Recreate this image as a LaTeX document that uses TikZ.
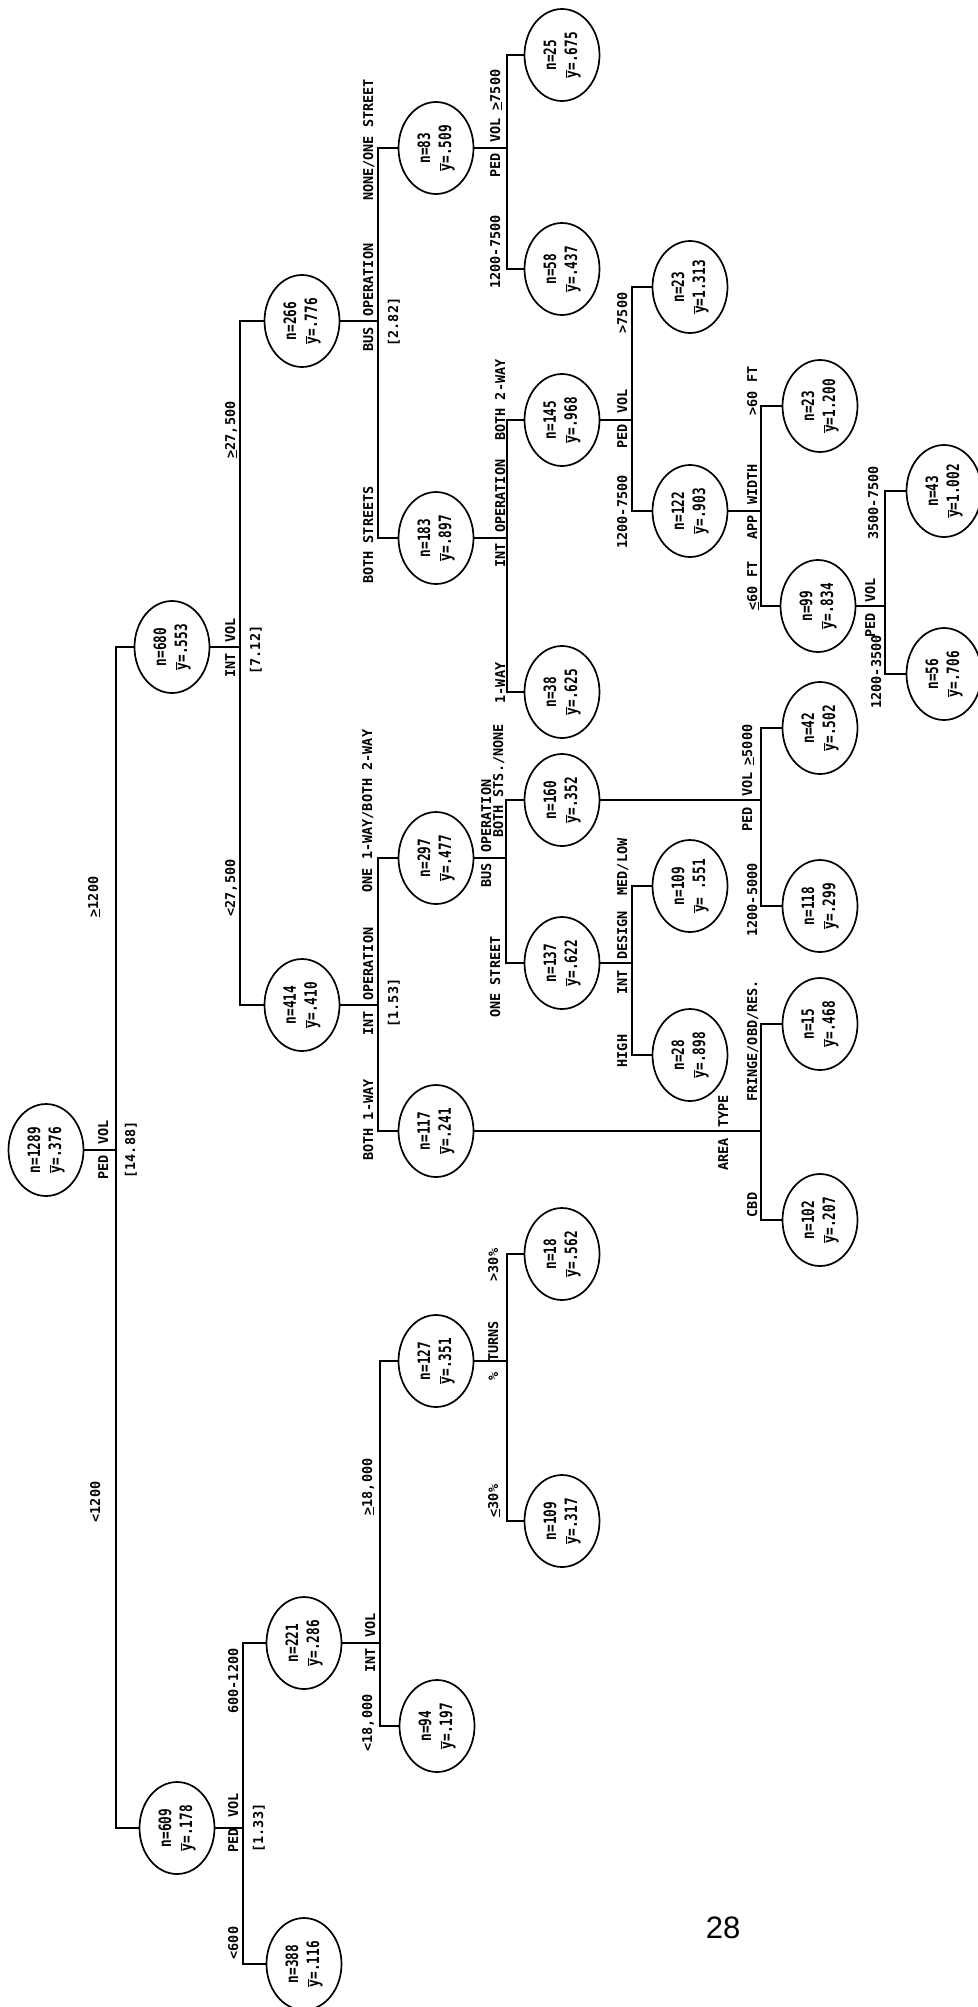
\documentclass[tikz,border=0pt]{standalone}
\usepackage{fontspec}
\setmainfont{Liberation Sans}
\newfontfamily\treefont[FakeStretch=0.75]{DejaVu Sans Mono}
\newfontfamily\labfont{DejaVu Sans Mono}
\usetikzlibrary{shapes.geometric}
\newcommand\ymean{$\overline{\hbox{y}}$}
\newcommand\gtu{\underline{>}}
\newcommand\ltu{\underline{<}}
\tikzset{
  leaf/.style={ellipse, draw, line width=1.7pt, rotate=90, minimum width=92pt, minimum height=75pt,
    inner sep=0pt, align=center, font=\treefont\bfseries\fontsize{17}{21}\selectfont},
  lab/.style={rotate=90, inner sep=0pt, font=\labfont\bfseries\fontsize{13.5}{16}\selectfont,
    text height=10pt, text depth=0pt},
  conn/.style={line width=1.5pt}
}
\newcommand\treebranch[3]{%
  \draw[conn] (#1) -- (j#1);
  \draw[conn] (#2) -- (#2 -| j#1) -- (#3 -| j#1) -- (#3);}
\newcommand\splitlab[5]{%
  \node[lab, anchor=east] (#1b) at ({#2},{#3+5}) {#4};
  \node[lab, anchor=west] (#1a) at ({#2},{#3-5}) {#5};}
\begin{document}
\begin{tikzpicture}[x=1pt,y=-1pt]
\useasboundingbox (0,0) rectangle (977,2007);
% nodes
\node[leaf] (n1289) at (46,1150) {n=1289\\\ymean=.376};
\node[leaf] (n680) at (172,647) {n=680\\\ymean=.553};
\node[leaf] (n609) at (177,1828) {n=609\\\ymean=.178};
\node[leaf] (n266) at (302,321) {n=266\\\ymean=.776};
\node[leaf] (n414) at (302,1005) {n=414\\\ymean=.410};
\node[leaf] (n221) at (304,1643) {n=221\\\ymean=.286};
\node[leaf] (n388) at (304,1964) {n=388\\\ymean=.116};
\node[leaf] (n83) at (436,148) {n=83\\\ymean=.509};
\node[leaf] (n183) at (436,538) {n=183\\\ymean=.897};
\node[leaf] (n297) at (436,858) {n=297\\\ymean=.477};
\node[leaf] (n117) at (436,1131) {n=117\\\ymean=.241};
\node[leaf] (n127) at (436,1361) {n=127\\\ymean=.351};
\node[leaf] (n94) at (437,1726) {n=94\\\ymean=.197};
\node[leaf] (n25) at (562,55) {n=25\\\ymean=.675};
\node[leaf] (n58) at (562,269) {n=58\\\ymean=.437};
\node[leaf] (n145) at (562,420) {n=145\\\ymean=.968};
\node[leaf] (n38) at (562,692) {n=38\\\ymean=.625};
\node[leaf] (n160) at (562,800) {n=160\\\ymean=.352};
\node[leaf] (n137) at (562,963) {n=137\\\ymean=.622};
\node[leaf] (n18) at (562,1254) {n=18\\\ymean=.562};
\node[leaf] (n109b) at (562,1521) {n=109\\\ymean=.317};
\node[leaf] (n23a) at (690,287) {n=23\\\ymean=1.313};
\node[leaf] (n122) at (690,511) {n=122\\\ymean=.903};
\node[leaf] (n109a) at (690,886) {n=109\\\ymean=\ .551};
\node[leaf] (n28) at (690,1055) {n=28\\\ymean=.898};
\node[leaf] (n23b) at (820,406) {n=23\\\ymean=1.200};
\node[leaf] (n99) at (818,606) {n=99\\\ymean=.834};
\node[leaf] (n42) at (820,728) {n=42\\\ymean=.502};
\node[leaf] (n118) at (820,906) {n=118\\\ymean=.299};
\node[leaf] (n15) at (820,1024) {n=15\\\ymean=.468};
\node[leaf] (n102) at (820,1220) {n=102\\\ymean=.207};
\node[leaf] (n43) at (944,491) {n=43\\\ymean=1.002};
\node[leaf] (n56) at (944,674) {n=56\\\ymean=.706};
% junctions
\coordinate (jn1289) at (116,1150);
\coordinate (jn680) at (240,647);
\coordinate (jn266) at (378,321);
\coordinate (jn83) at (507,148);
\coordinate (jn183) at (507,538);
\coordinate (jn145) at (632,420);
\coordinate (jn122) at (761,511);
\coordinate (jn99) at (885,606);
\coordinate (jn414) at (378,1005);
\coordinate (jn297) at (506,858);
\coordinate (jn160) at (761,800);
\coordinate (jn137) at (632,963);
\coordinate (jn117) at (761,1131);
\coordinate (jn609) at (243,1828);
\coordinate (jn221) at (380,1643);
\coordinate (jn127) at (507,1361);
% connectors
\treebranch{n1289}{n680}{n609}
\treebranch{n680}{n266}{n414}
\treebranch{n266}{n83}{n183}
\treebranch{n83}{n25}{n58}
\treebranch{n183}{n145}{n38}
\treebranch{n145}{n23a}{n122}
\treebranch{n122}{n23b}{n99}
\treebranch{n99}{n43}{n56}
\treebranch{n414}{n297}{n117}
\treebranch{n297}{n160}{n137}
\treebranch{n160}{n42}{n118}
\treebranch{n137}{n109a}{n28}
\treebranch{n117}{n15}{n102}
\treebranch{n609}{n221}{n388}
\treebranch{n221}{n127}{n94}
\treebranch{n127}{n18}{n109b}
% split labels
\splitlab{s1289}{103}{1150}{PED}{VOL}
\splitlab{s680}{230}{648}{INT}{VOL}
\splitlab{s266}{368}{322}{BUS}{OPERATION}
\splitlab{s83}{495}{148}{PED}{VOL}
\splitlab{s183}{500}{538}{INT}{OPERATION}
\splitlab{s145}{622}{419}{PED}{VOL}
\splitlab{s122}{752}{510}{APP}{WIDTH}
\splitlab{s99}{870}{608}{PED}{VOL}
\splitlab{s414}{368}{1006}{INT}{OPERATION}
\splitlab{s297}{486}{858}{BUS}{OPERATION}
\splitlab{s160}{747}{802}{PED}{VOL}
\splitlab{s137}{622}{965}{INT}{DESIGN}
\splitlab{s117}{723}{1133}{AREA}{TYPE}
\splitlab{s609}{233}{1823}{PED}{VOL}
\splitlab{s221}{370}{1643}{INT}{VOL}
\splitlab{s127}{493}{1367}{\%}{TURNS}
% bracket values
\node[lab] (v1289) at (130,1150) {[14.88]};
\node[lab] (v680) at (255,650) {[7.12]};
\node[lab] (v266) at (393,322) {[2.82]};
\node[lab] (v414) at (393,1003) {[1.53]};
\node[lab] (v609) at (258,1828) {[1.33]};
% branch labels
\node[lab] (b1) at (93,897) {\gtu1200};
\node[lab] (b2) at (95,1502) {<1200};
\node[lab] (b3) at (230,430) {\gtu27,500};
\node[lab] (b4) at (230,888) {<27,500};
\node[lab] (b5) at (368,140) {NONE/ONE STREET};
\node[lab] (b6) at (368,535) {BOTH STREETS};
\node[lab] (b7) at (495,90) {\gtu7500};
\node[lab] (b8) at (495,252) {1200-7500};
\node[lab] (b9) at (500,400) {BOTH 2-WAY};
\node[lab] (b10) at (500,683) {1-WAY};
\node[lab] (b11) at (622,313) {>7500};
\node[lab] (b12) at (622,512) {1200-7500};
\node[lab] (b13) at (752,391) {>60 FT};
\node[lab] (b14) at (752,586) {\ltu60 FT};
\node[lab] (b15) at (873,503) {3500-7500};
\node[lab] (b16) at (876,672) {1200-3500};
\node[lab] (b17) at (367,811) {ONE 1-WAY/BOTH 2-WAY};
\node[lab] (b18) at (368,1120) {BOTH 1-WAY};
\node[lab] (b19) at (498,781) {BOTH STS./NONE};
\node[lab] (b20) at (495,977) {ONE STREET};
\node[lab] (b21) at (747,745) {\gtu5000};
\node[lab] (b22) at (752,900) {1200-5000};
\node[lab] (b23) at (622,867) {MED/LOW};
\node[lab] (b24) at (622,1051) {HIGH};
\node[lab] (b25) at (752,1041) {FRINGE/OBD/RES.};
\node[lab] (b26) at (752,1205) {CBD};
\node[lab] (b27) at (233,1681) {600-1200};
\node[lab] (b28) at (233,1943) {<600};
\node[lab] (b29) at (367,1487) {\gtu18,000};
\node[lab] (b30) at (367,1723) {<18,000};
\node[lab] (b31) at (493,1265) {>30\%};
\node[lab] (b32) at (493,1501) {\ltu30\%};
% page number
\node[font=\fontsize{31}{36}\selectfont, inner sep=0pt] (pg) at (723,1928) {28};
\end{tikzpicture}
\end{document}
